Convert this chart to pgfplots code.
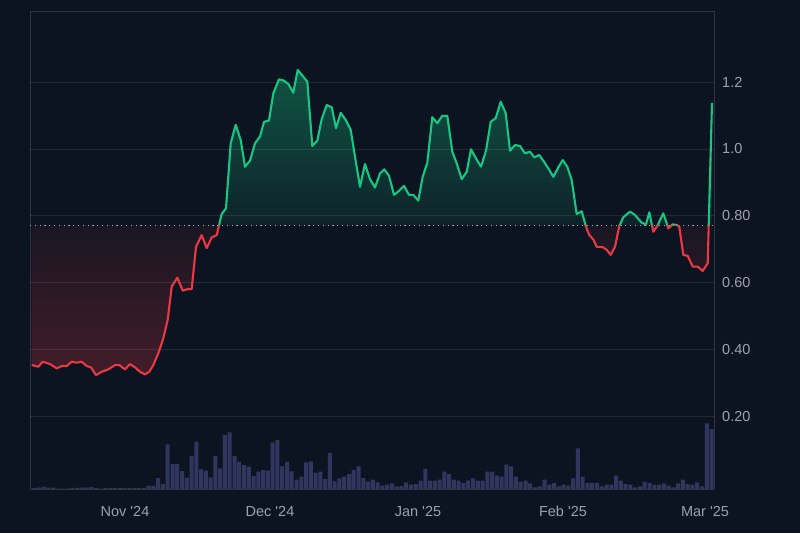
\documentclass[border=0pt]{standalone}
\usepackage{pgfplots}
\pgfplotsset{compat=1.18}
\usepackage{pgfplotstable}
\usepackage{fontspec}
\setmainfont{Liberation Sans}
\definecolor{bg}{HTML}{0D1421}
\definecolor{up}{HTML}{16C784}
\definecolor{down}{HTML}{EA3943}
\definecolor{vol}{HTML}{30375F}
\definecolor{framec}{HTML}{2F3442}
\definecolor{tickc}{HTML}{9CA1B0}
\definecolor{dotc}{HTML}{A3A8B5}
\colorlet{gtop}{up!36!bg}
\colorlet{gbot}{up!8!bg}
\colorlet{rtop}{down!6!bg}
\colorlet{rbot}{down!24!bg}
% price bbox 0.327..1.236 maps to 25bp..75bp; baseline 0.771 at 49.4bp
\pgfdeclareverticalshading{greenfade}{100bp}{color(0bp)=(gbot); color(49.4bp)=(gbot); color(75bp)=(gtop); color(100bp)=(gtop)}
\pgfdeclareverticalshading{redfade}{100bp}{color(0bp)=(rbot); color(25bp)=(rbot); color(49.4bp)=(rtop); color(100bp)=(rtop)}

\pgfplotstableread{
x y
31.7 0.355
38.3 0.350
42.7 0.365
50.0 0.358
56.7 0.345
61.7 0.352
66.7 0.352
71.7 0.365
76.7 0.362
81.7 0.365
86.7 0.352
91.0 0.348
96.0 0.325
101.7 0.335
108.3 0.342
115.0 0.355
119.3 0.355
125.0 0.342
130.0 0.358
135.0 0.348
140.0 0.335
145.0 0.327
149.3 0.335
153.3 0.355
158.3 0.390
163.3 0.435
167.7 0.490
171.7 0.589
177.3 0.616
182.7 0.577
186.7 0.581
191.7 0.582
196.0 0.708
201.7 0.743
206.7 0.704
211.7 0.736
216.7 0.743
221.7 0.806
226.0 0.823
230.7 1.017
235.7 1.072
240.7 1.027
245.0 0.947
250.0 0.965
255.0 1.017
260.0 1.037
264.0 1.081
269.0 1.085
273.3 1.166
279.0 1.208
284.0 1.204
288.3 1.194
293.3 1.168
297.7 1.236
302.7 1.218
307.3 1.201
312.3 1.009
317.3 1.025
321.7 1.089
326.7 1.131
331.7 1.125
336.0 1.062
340.7 1.108
345.7 1.087
350.7 1.057
355.0 0.977
360.0 0.887
365.0 0.955
370.0 0.910
375.0 0.885
380.0 0.927
384.3 0.939
389.0 0.920
394.0 0.863
399.0 0.875
404.0 0.890
409.0 0.863
413.3 0.863
418.3 0.846
422.7 0.917
427.3 0.959
432.3 1.095
437.3 1.077
442.3 1.099
447.3 1.099
452.3 0.992
456.7 0.957
461.7 0.910
466.7 0.932
471.0 0.999
476.0 0.972
481.0 0.947
486.0 0.995
490.7 1.081
495.7 1.092
500.7 1.141
505.7 1.107
510.0 0.995
515.0 1.012
520.0 1.009
525.0 0.987
530.0 0.992
534.3 0.975
539.3 0.982
544.0 0.962
549.0 0.939
553.3 0.917
558.3 0.945
562.7 0.967
567.3 0.947
571.7 0.907
576.7 0.806
581.7 0.814
586.0 0.768
589.3 0.743
593.3 0.730
596.7 0.708
602.7 0.707
606.7 0.699
610.7 0.684
615.0 0.708
619.3 0.770
623.3 0.796
630.0 0.813
635.0 0.803
641.7 0.780
646.0 0.775
649.3 0.811
653.3 0.753
657.3 0.770
663.3 0.808
668.3 0.763
672.7 0.775
676.7 0.773
679.3 0.768
683.3 0.684
687.7 0.681
692.7 0.649
697.7 0.649
702.7 0.636
707.7 0.659
712.0 1.137
}\price

\pgfplotstableread{
x v
34.1 1
38.9 1.5
43.6 2.5
48.4 1.5
53.2 1.5
57.9 0.5
62.7 0.5
67.5 0.5
72.3 1.2
77.0 1.2
81.8 1.5
86.6 1.5
91.3 2.0
96.1 1.2
100.9 0.5
105.7 1.0
110.4 1.0
115.2 1.0
120.0 1.0
124.7 1.0
129.5 1.0
134.3 1.0
139.1 1.0
143.8 1.2
148.6 3.5
153.4 3.5
158.1 11
162.9 5
167.7 44.7
172.5 25
177.2 25
182.0 18
186.8 11.3
191.5 33
196.3 47.3
201.1 19.7
205.9 18.3
210.6 11.7
215.4 33
220.2 20.7
224.9 54
229.7 56.7
234.5 33
239.2 27.3
244.0 24
248.8 22.3
253.6 13
258.3 17.5
263.1 19
267.9 18.3
272.6 46.7
277.4 49
282.2 22.7
287.0 27.3
291.7 17.7
296.5 9.3
301.3 12.3
306.0 26.7
310.8 27.7
315.6 16.3
320.3 17.3
325.1 10
329.9 36
334.7 7.7
339.4 10.7
344.2 12.3
349.0 15
353.7 19
358.5 22.7
363.3 11
368.0 7.3
372.8 9.3
377.6 6.7
382.4 3.3
387.1 4.3
391.9 5.7
396.7 2.7
401.4 3
406.2 6.7
411.0 4.3
415.8 5
420.5 8.3
425.3 20
430.1 8.3
434.8 8.3
439.6 9.3
444.4 17.3
449.1 15
453.9 9.3
458.7 8.3
463.4 6
468.2 8.3
473.0 10.7
477.8 8.3
482.5 8.3
487.3 17.3
492.1 17.3
496.8 13.3
501.6 12.3
506.4 24.3
511.1 22.7
515.9 12.3
520.7 7.3
525.5 8.3
530.2 5.7
535.0 1.7
539.8 2.7
544.5 9.3
549.3 4.3
554.1 6
558.8 2.7
563.6 4.3
568.4 3.3
573.2 10.7
577.9 40.7
582.7 12.3
587.5 6
592.2 6
597.0 6
601.8 2.7
606.6 4.3
611.3 4.3
616.1 13.3
620.9 8.3
625.6 5
630.4 4.3
635.2 1.7
640.0 2.7
644.7 7.3
649.5 6
654.3 4.3
659.0 4.3
663.8 5.7
668.6 3.3
673.3 1.7
678.1 5.7
682.9 9.3
687.7 5
692.4 4.3
697.2 6.7
702.0 2.7
706.8 65.7
711.5 60
}\volume

\begin{document}
\pagecolor{bg}%
\begin{tikzpicture}[x=1pt,y=1pt]
\path (0,0) rectangle (800,533);
% volume
\begin{axis}[at={(30pt,44pt)}, anchor=south west, scale only axis,
  width=684pt, height=477pt, xmin=30, xmax=714, ymin=0, ymax=477, hide axis]
\addplot[ybar, bar width=4, fill=vol, draw=none] table[x=x,y=v] {\volume};
\end{axis}
% price
\begin{axis}[at={(30pt,44pt)}, anchor=south west, scale only axis,
  width=684pt, height=477pt,
  xmin=30, xmax=714, ymin=-0.015, ymax=1.409,
  axis line style={framec, line width=1pt},
  major tick length=0pt,
  xtick={125,270,418,563,705},
  xticklabels={Nov \textquotesingle24, Dec \textquotesingle24, Jan \textquotesingle25, Feb \textquotesingle25, Mar \textquotesingle25},
  ytick={0.2,0.4,0.6,0.8,1.0,1.2},
  yticklabels={0.20,0.40,0.60,0.80,1.0,1.2},
  yticklabel pos=right,
  ticklabel style={font=\fontsize{14.5}{16}\selectfont, text=tickc, inner sep=0pt},
  xticklabel style={anchor=base, yshift=-27pt},
  yticklabel style={anchor=west, xshift=8pt},
]
% area fills
\begin{scope}
\clip (axis cs:0,0.771) rectangle (axis cs:800,2);
\addplot[draw=none, shading=greenfade] table[x=x,y=y] {\price}
  -- (axis cs:712,0.771) -- (axis cs:31.7,0.771) -- cycle;
\end{scope}
\begin{scope}
\clip (axis cs:0,-1) rectangle (axis cs:800,0.771);
\addplot[draw=none, shading=redfade] table[x=x,y=y] {\price}
  -- (axis cs:712,0.771) -- (axis cs:31.7,0.771) -- cycle;
\end{scope}
% grid
\draw[white, opacity=0.09, line width=1pt] (axis cs:30,0.2) -- (axis cs:714,0.2);
\draw[white, opacity=0.09, line width=1pt] (axis cs:30,0.4) -- (axis cs:714,0.4);
\draw[white, opacity=0.09, line width=1pt] (axis cs:30,0.6) -- (axis cs:714,0.6);
\draw[white, opacity=0.09, line width=1pt] (axis cs:30,0.8) -- (axis cs:714,0.8);
\draw[white, opacity=0.09, line width=1pt] (axis cs:30,1.0) -- (axis cs:714,1.0);
\draw[white, opacity=0.09, line width=1pt] (axis cs:30,1.2) -- (axis cs:714,1.2);
% baseline
\draw[dotc, line width=1.2pt, dash pattern=on 1.2pt off 3.6pt] (axis cs:30,0.771) -- (axis cs:712,0.771);
% lines
\begin{scope}
\clip (axis cs:0,0.771) rectangle (axis cs:800,2);
\addplot[up, line width=2.1pt, line join=round] table[x=x,y=y] {\price};
\end{scope}
\begin{scope}
\clip (axis cs:0,-1) rectangle (axis cs:800,0.771);
\addplot[down, line width=2.1pt, line join=round] table[x=x,y=y] {\price};
\end{scope}
\end{axis}
\pgfresetboundingbox
\useasboundingbox (0,0) rectangle (800,533);
\end{tikzpicture}
\end{document}
